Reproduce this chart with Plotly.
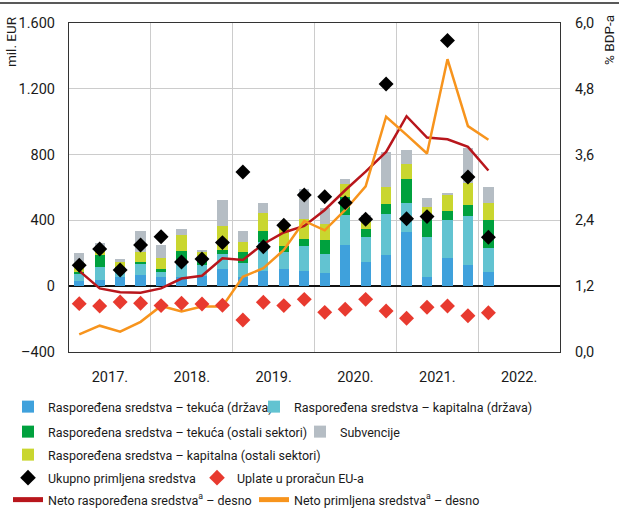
import plotly.graph_objects as go

# ---------------- data (quarters 2017Q1 .. 2022Q1) ----------------
quarters = ["2017Q1", "2017Q2", "2017Q3", "2017Q4",
            "2018Q1", "2018Q2", "2018Q3", "2018Q4",
            "2019Q1", "2019Q2", "2019Q3", "2019Q4",
            "2020Q1", "2020Q2", "2020Q3", "2020Q4",
            "2021Q1", "2021Q2", "2021Q3", "2021Q4",
            "2022Q1"]

tekuca_drzava = [33, 38, 54, 68, 54, 58, 64, 105, 58, 94, 103, 94,
                 82, 250, 149, 190, 331, 58, 173, 131, 88]
kapitalna_drzava = [39, 77, 55, 71, 34, 77, 65, 91, 85, 177, 107, 150,
                    114, 183, 152, 249, 173, 243, 232, 297, 146]
tekuca_ostali = [16, 75, 10, 10, 15, 81, 26, 24, 67, 65, 36, 41,
                 85, 111, 45, 62, 148, 126, 54, 66, 168]
kapitalna_ostali = [31, 46, 34, 61, 67, 95, 55, 148, 61, 107, 112, 122,
                    97, 75, 72, 100, 91, 56, 98, 132, 102]
subvencije = [81, 25, 10, 126, 79, 37, 6, 156, 67, 61, 8, 184,
              96, 33, 15, 213, 85, 55, 8, 216, 101]

ukupno_primljena = [127, 226, 98, 250, 301, 147, 165, 265, 694, 240, 370, 554,
                    544, 508, 407, 1229, 410, 423, 1493, 664, 297]
uplate_eu = [-106, -120, -96, -104, -118, -104, -108, -116, -206, -98, -118, -80,
             -159, -140, -80, -151, -195, -128, -120, -180, -161]

neto_rasporedena = [1.48, 1.16, 1.09, 1.08, 1.16, 1.34, 1.39, 1.71, 1.68, 1.97, 2.18, 2.30,
                    2.59, 2.95, 3.29, 3.65, 4.30, 3.91, 3.88, 3.74, 3.31]
neto_primljena = [0.32, 0.48, 0.37, 0.55, 0.84, 0.74, 0.83, 0.83, 1.37, 1.53, 1.86, 2.39,
                  2.22, 2.59, 3.02, 4.29, 3.96, 3.62, 5.34, 4.12, 3.87]

year_labels = ["2017.", "2018.", "2019.", "2020.", "2021.", "2022."]
left_ticks = [-400, 0, 400, 800, 1200, 1600]
left_ticktext = ["\u2013400", "0", "400", "800", "1.200", "1.600"]
right_ticks = [0, 1.2, 2.4, 3.6, 4.8, 6.0]
right_ticktext = ["0,0", "1,2", "2,4", "3,6", "4,8", "6,0"]

# ---------------- styling ----------------
FONT = "Roboto, Liberation Sans, Arial, sans-serif"
C_BLUE = "#3fa1dc"
C_TEAL = "#62c3d1"
C_GREEN = "#00a13e"
C_YELLOW = "#c9d62f"
C_GRAY = "#b5bdc4"
C_BLACK = "#000000"
C_REDD = "#e83a2f"
C_REDLINE = "#b8161c"
C_ORANGE = "#f7941d"
TXT = "#1a1a1a"

x = list(range(len(quarters)))
n_years = len(year_labels)
year_centers = [4 * i + 1.5 for i in range(n_years)]
year_bounds = [4 * i + 3.5 for i in range(n_years)]

# plot area geometry (px)
L, R, T, B = 69, 59, 23, 158
W, H = 619, 510
PW, PH = W - L - R, H - T - B


def px_x(p):
    return (p - L) / PW


def px_y(p):
    return (H - B - p) / PH


fig = go.Figure()

bars = [
    ("Raspoređena sredstva – tekuća (država)", tekuca_drzava, C_BLUE, "legend"),
    ("Raspoređena sredstva – kapitalna (država)", kapitalna_drzava, C_TEAL, "legend2"),
    ("Raspoređena sredstva – tekuća (ostali sektori)", tekuca_ostali, C_GREEN, "legend3"),
    ("Raspoređena sredstva – kapitalna (ostali sektori)", kapitalna_ostali, C_YELLOW, "legend5"),
    ("Subvencije", subvencije, C_GRAY, "legend4"),
]

for name, vals, col, lid in bars:
    fig.add_trace(go.Bar(x=x, y=vals, name=name, marker=dict(color=col, line=dict(width=0)),
                         width=0.5, legend=lid, yaxis="y"))

fig.add_trace(go.Scatter(x=x, y=neto_rasporedena, name="Neto raspoređena sredstva<sup>a</sup> – desno",
                         mode="lines", line=dict(color=C_REDLINE, width=2.5),
                         yaxis="y2", legend="legend8"))
fig.add_trace(go.Scatter(x=x, y=neto_primljena, name="Neto primljena sredstva<sup>a</sup> – desno",
                         mode="lines", line=dict(color=C_ORANGE, width=2.5),
                         yaxis="y2", legend="legend9"))

fig.add_trace(go.Scatter(x=x, y=ukupno_primljena, name="Ukupno primljena sredstva",
                         mode="markers", marker=dict(symbol="diamond", size=11.5, color=C_BLACK),
                         yaxis="y3", legend="legend6"))
fig.add_trace(go.Scatter(x=x, y=uplate_eu, name="Uplate u proračun EU-a",
                         mode="markers", marker=dict(symbol="diamond", size=11.5, color=C_REDD),
                         yaxis="y3", legend="legend7"))

grid = "#cccccc"
frame = "#333333"
tickfont = dict(family=FONT, size=14.5, color=TXT)

fig.update_layout(
    width=W, height=H,
    margin=dict(l=L, r=R, t=T, b=B, autoexpand=False),
    paper_bgcolor="white", plot_bgcolor="white",
    barmode="relative", bargap=0,
    font=dict(family=FONT, size=12.5, color=TXT),
    xaxis=dict(range=[-0.5, 4 * n_years - 0.5], tickvals=year_centers, ticktext=year_labels,
               showgrid=False, zeroline=False, showline=True, linecolor=frame, linewidth=1.2,
               mirror=True, ticks="", tickfont=tickfont, ticklabelstandoff=11,
               minor=dict(tickvals=year_bounds, showgrid=True, gridcolor=grid, gridwidth=1, ticks="")),
    yaxis=dict(range=[-400, 1600], tickvals=left_ticks, ticktext=left_ticktext,
               showgrid=True, gridcolor=grid, gridwidth=1,
               zeroline=True, zerolinecolor="#111111", zerolinewidth=1.5,
               showline=True, linecolor=frame, linewidth=1.2, ticks="",
               tickfont=tickfont, ticklabelstandoff=10),
    yaxis2=dict(range=[0, 6], tickvals=right_ticks, ticktext=right_ticktext,
                overlaying="y", side="right", showgrid=False, zeroline=False,
                showline=True, linecolor=frame, linewidth=1.2, ticks="",
                tickfont=tickfont, ticklabelstandoff=11),
    yaxis3=dict(range=[-400, 1600], overlaying="y", visible=False),
    showlegend=True,
)

# legends: one per entry, placed in rows/columns like the reference
leg_common = dict(font=dict(family=FONT, size=12.5, color=TXT), bgcolor="rgba(0,0,0,0)",
                  xanchor="left", yanchor="middle", orientation="v", borderwidth=0,
                  tracegroupgap=0, itemsizing="constant")
col1 = 8
positions = {
    "legend": (col1, 407),
    "legend2": (254, 407),
    "legend3": (col1, 432),
    "legend4": (300, 432),
    "legend5": (col1, 455),
    "legend6": (col1, 478),
    "legend7": (197, 478),
    "legend8": (col1, 500),
    "legend9": (254, 500),
}
for lid, (px_, py_) in positions.items():
    fig.update_layout({lid: dict(x=px_x(px_), y=px_y(py_), **leg_common)})

# axis titles
fig.add_annotation(text="mil. EUR", xref="paper", yref="paper", x=px_x(11), y=px_y(42),
                   xanchor="center", yanchor="middle",
                   textangle=-90, showarrow=False, font=dict(family=FONT, size=13.5, color=TXT))
fig.add_annotation(text="% BDP-a", xref="paper", yref="paper", x=px_x(609), y=px_y(40),
                   xanchor="center", yanchor="middle",
                   textangle=-90, showarrow=False, font=dict(family=FONT, size=13.5, color=TXT))

# top rule
fig.add_shape(type="line", xref="paper", yref="paper", x0=px_x(0), x1=px_x(W), y0=px_y(3), y1=px_y(3),
              line=dict(color="#222222", width=1.5))

fig.write_html("out.html", config={"displayModeBar": False},
               post_script="document.body.style.margin='0';")
